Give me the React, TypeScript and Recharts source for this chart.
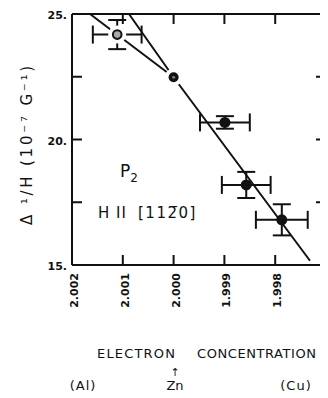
import React from 'react';
import { ComposedChart, XAxis, YAxis, Line, Scatter, ErrorBar } from 'recharts';

// ---- axis ticks ----
const xTicks = [2.002, 2.001, 2.0, 1.999, 1.998, 1.997];
const xTickLabels = ['2.002', '2.001', '2.000', '1.999', '1.998', '1.997'];
const yTicks = [15, 17.5, 20, 22.5, 25];
const yTickLabels = ['15.', '', '20.', '', '25.'];
const xDomain = [1.997, 2.002];
const yDomain = [15, 25];

// ---- measured points (with error bars) ----
const measuredX = [2.00111, 1.99899, 1.99857, 1.99787];
const measuredY = [24.18, 20.68, 18.19, 16.8];
const measuredXErr = [0.00048, 0.00049, 0.00048, 0.00051];
const measuredYErr = [0.58, 0.25, 0.52, 0.62];
const measuredOpen = [true, false, false, false];

// ---- pure Zn point ----
const znX = [2.0];
const znY = [22.48];

// ---- drawn lines ----
const lineAX = [2.000878, 2.0, 1.997315];
const lineAY = [25, 22.48, 15.17];
const lineBX = [2.001646, 2.0];
const lineBY = [25, 22.48];

const measured = measuredX.map((x, i) => ({
  x,
  y: measuredY[i],
  ex: measuredXErr[i],
  ey: measuredYErr[i],
  open: measuredOpen[i],
}));
const zn = znX.map((x, i) => ({ x, y: znY[i] }));
const halo = [
  { x: measuredX[0], y: measuredY[0] },
  { x: znX[0], y: znY[0] },
];
const lineA = lineAX.map((x, i) => ({ x, y: lineAY[i] }));
const lineB = lineBX.map((x, i) => ({ x, y: lineBY[i] }));

const INK = '#111';
const FONT = "'DejaVu Sans', sans-serif";
const TICK = 10;

function BottomTick(props: any) {
  const { x, y, index } = props;
  const tx = x + 2;
  const ty = y + 8;
  return (
    <g>
      <line x1={x} y1={y} x2={x} y2={y - TICK} stroke={INK} strokeWidth={2} />
      <text
        x={tx}
        y={ty}
        transform={`rotate(-90, ${tx}, ${ty})`}
        textAnchor="end"
        dy="0.36em"
        fontSize={11}
        fontWeight="bold"
        fontFamily={FONT}
        fill={INK}
      >
        {xTickLabels[index]}
      </text>
    </g>
  );
}

function TopTick(props: any) {
  const { x, y } = props;
  return <line x1={x} y1={y} x2={x} y2={y + TICK} stroke={INK} strokeWidth={2} />;
}

function LeftTick(props: any) {
  const { x, y, index } = props;
  return (
    <g>
      <line x1={x} y1={y} x2={x + TICK} y2={y} stroke={INK} strokeWidth={2} />
      <text x={x - 5} y={y + 5} textAnchor="end" fontSize={11} fontWeight="bold" fontFamily={FONT} fill={INK}>
        {yTickLabels[index]}
      </text>
    </g>
  );
}

function RightTick(props: any) {
  const { x, y } = props;
  return <line x1={x} y1={y} x2={x - TICK} y2={y} stroke={INK} strokeWidth={2} />;
}

function MeasuredShape(props: any) {
  const { cx, cy, payload } = props;
  if (payload && payload.open) {
    return <circle cx={cx} cy={cy} r={4.3} fill="#a8a8a8" stroke={INK} strokeWidth={2} />;
  }
  return <circle cx={cx} cy={cy} r={5.5} fill={INK} />;
}

function ZnShape(props: any) {
  const { cx, cy } = props;
  return (
    <g>
      <circle cx={cx} cy={cy} r={5} fill={INK} />
      <circle cx={cx} cy={cy} r={1.6} fill="#777" />
    </g>
  );
}

function HaloShape(props: any) {
  const { cx, cy } = props;
  return <circle cx={cx} cy={cy} r={9} fill="#fff" />;
}

const axisLineStyle = { stroke: INK, strokeWidth: 2 };

export default function App() {
  const W = 320;
  const H = 390;
  return (
    <div style={{ position: 'relative', width: W, height: H }}>
      <ComposedChart width={W} height={H} margin={{ top: 5, right: 1, bottom: 93, left: 0 }}>
        <XAxis
          xAxisId="0"
          dataKey="x"
          type="number"
          domain={xDomain}
          ticks={xTicks}
          reversed
          interval={0}
          height={40}
          tickSize={0}
          tickMargin={0}
          tickLine={false}
          axisLine={axisLineStyle}
          tick={<BottomTick />}
        />
        <XAxis
          xAxisId="top"
          dataKey="x"
          orientation="top"
          type="number"
          domain={xDomain}
          ticks={xTicks}
          reversed
          interval={0}
          height={1}
          tickSize={0}
          tickMargin={0}
          tickLine={false}
          axisLine={axisLineStyle}
          tick={<TopTick />}
        />
        <YAxis
          yAxisId="0"
          type="number"
          domain={yDomain}
          ticks={yTicks}
          interval={0}
          width={64}
          tickSize={0}
          tickMargin={0}
          tickLine={false}
          axisLine={axisLineStyle}
          tick={<LeftTick />}
        />
        <YAxis
          yAxisId="right"
          orientation="right"
          type="number"
          domain={yDomain}
          ticks={yTicks}
          interval={0}
          width={1}
          tickSize={0}
          tickMargin={0}
          tickLine={false}
          axisLine={axisLineStyle}
          tick={<RightTick />}
        />
        <Line
          xAxisId="0"
          yAxisId="0"
          data={lineA}
          dataKey="y"
          type="linear"
          stroke={INK}
          strokeWidth={2}
          dot={false}
          activeDot={false}
          isAnimationActive={false}
        />
        <Line
          xAxisId="top"
          yAxisId="right"
          data={lineB}
          dataKey="y"
          type="linear"
          stroke={INK}
          strokeWidth={2}
          dot={false}
          activeDot={false}
          isAnimationActive={false}
        />
        <Scatter
          xAxisId="0"
          yAxisId="0"
          data={halo}
          dataKey="y"
          shape={<HaloShape />}
          isAnimationActive={false}
        />
        <Scatter
          xAxisId="0"
          yAxisId="0"
          data={zn}
          dataKey="y"
          shape={<ZnShape />}
          isAnimationActive={false}
        />
        <Scatter
          xAxisId="0"
          yAxisId="0"
          data={measured}
          dataKey="y"
          shape={<MeasuredShape />}
          isAnimationActive={false}
        >
          <ErrorBar dataKey="ex" direction="x" width={9} stroke={INK} strokeWidth={2} isAnimationActive={false} />
          <ErrorBar dataKey="ey" direction="y" width={9} stroke={INK} strokeWidth={2} isAnimationActive={false} />
        </Scatter>
      </ComposedChart>
      <svg
        width={W}
        height={H}
        style={{ position: 'absolute', left: 0, top: 0, pointerEvents: 'none' }}
      >
        <text
          x={24}
          y={136}
          transform="rotate(-90, 24, 136)"
          textAnchor="middle"
          fontSize={15}
          fontFamily={FONT}
          letterSpacing={2.8}
          fill={INK}
        >
          Δ  ¹/H   (10⁻⁷ G⁻¹)
        </text>
        <text x={112} y={169} fontSize={17} fontFamily={FONT} fill={INK}>
          P
          <tspan fontSize={12} dy={5}>2</tspan>
        </text>
        <text x={90} y={210} fontSize={15} fontFamily={FONT} fill={INK} letterSpacing={1}>
          H II
        </text>
        <text x={130} y={210} fontSize={15} fontFamily={FONT} fill={INK} letterSpacing={1.5}>
          [112̅0]
        </text>
        <text x={89} y={350} fontSize={13} fontFamily={FONT} fill={INK} textLength={78} lengthAdjust="spacing">
          ELECTRON
        </text>
        <text x={189} y={350} fontSize={13} fontFamily={FONT} fill={INK} textLength={119} lengthAdjust="spacing">
          CONCENTRATION
        </text>
        <text x={167} y={368} fontSize={11} fontFamily={FONT} fill={INK} textAnchor="middle">
          ↑
        </text>
        <text x={167} y={382} fontSize={13} fontFamily={FONT} fill={INK} textAnchor="middle">
          Zn
        </text>
        <text x={75} y={382} fontSize={13} fontFamily={FONT} fill={INK} textAnchor="middle" letterSpacing={1}>
          (Al)
        </text>
        <text x={288} y={382} fontSize={13} fontFamily={FONT} fill={INK} textAnchor="middle" letterSpacing={1}>
          (Cu)
        </text>
      </svg>
    </div>
  );
}
